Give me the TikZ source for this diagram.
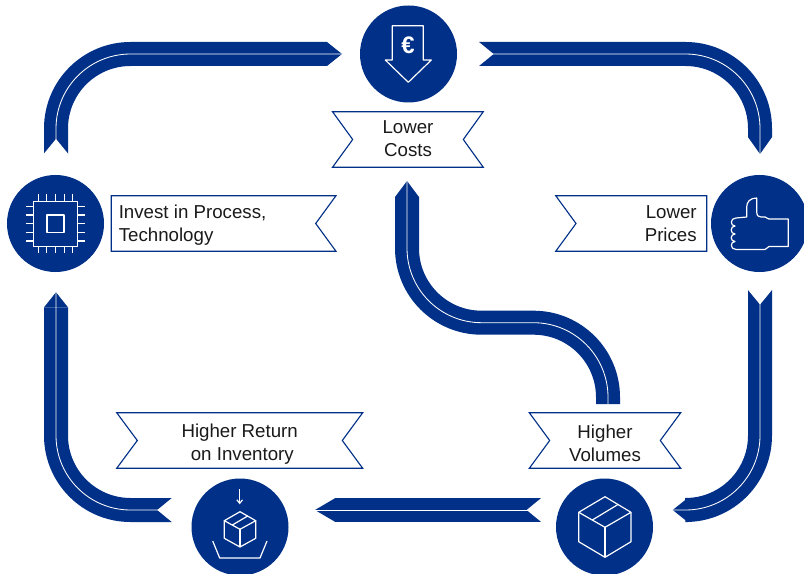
\documentclass[tikz,border=0pt]{standalone}
\usepackage{fontspec}
\setmainfont{Liberation Sans}
\usetikzlibrary{arrows.meta}
\definecolor{bandblue}{RGB}{0,48,135}
\definecolor{labelgray}{RGB}{26,26,26}
\begin{document}
\begin{tikzpicture}[x=0.7113pt,y=0.7113pt]
\tikzstyle{every node}+=[inner sep=0pt]
\tikzstyle{hub}=[circle,fill=bandblue,minimum size=69pt,outer sep=0pt]
\tikzstyle{flag}=[draw=bandblue,line width=0.8pt,fill=white,line join=miter]
\tikzstyle{caption}=[text=labelgray,font=\fontsize{13.3}{16.4}\selectfont]
\tikzstyle{ribbon}=[bandblue,line width=17.07pt,rounded corners=53pt]
\tikzstyle{seam}=[white,line width=0.6pt,rounded corners=53pt]
\tikzstyle{icon}=[white,line width=0.85pt,line join=round]
\tikzset{head/.style={-{Triangle[width=17.07pt,length=#1,line width=0pt]}}}
\useasboundingbox (0,0) rectangle (804,-574);

\node (costshub) [hub] at (408.5,-54) {};
\node (investhub) [hub] at (55.5,-223.5) {};
\node (priceshub) [hub] at (759.5,-223.5) {};
\node (returnhub) [hub] at (240,-527) {};
\node (volumeshub) [hub] at (604.5,-527) {};

\coordinate (investout) at (56,-154);
\coordinate (costsin) at (342,-54);
\coordinate (costsout) at (478.5,-54);
\coordinate (pricesin) at (760,-154);
\coordinate (pricesout) at (760,-289.5);
\coordinate (volumesin) at (672.7,-510);
\coordinate (volumesout) at (541.7,-510);
\coordinate (returnin) at (315,-510);
\coordinate (returnout) at (172.3,-510);
\coordinate (investin) at (56,-292.3);
\coordinate (volumesup) at (608,-404);
\coordinate (bendright) at (608,-322.7);
\coordinate (bendleft) at (407,-322.7);
\coordinate (costsup) at (407,-181);

\draw [ribbon,head=10.7pt] (investout) |- (costsin);
\draw [seam] (investout) |- (costsin);
\fill [white] (investout) ++(-14,-2) -- ++(1.7,2) -- ++(12.3,15) -- ++(12.3,-15) -- ++(1.7,-2) -- cycle;
\draw [ribbon,head=12pt] (costsout) -| (pricesin);
\draw [seam] (costsout) -| (pricesin);
\fill [white] (costsout) ++(-2,14) -- ++(2,-1.7) -- ++(15,-12.3) -- ++(-15,-12.3) -- ++(-2,-1.7) -- cycle;
\draw [ribbon,head=10.7pt] (pricesout) |- (volumesin);
\draw [seam] (pricesout) |- (volumesin);
\fill [white] (pricesout) ++(-14,2) -- ++(1.7,-2) -- ++(12.3,-15) -- ++(12.3,15) -- ++(1.7,2) -- cycle;
\draw [ribbon,head=14.5pt] (volumesout) -- (returnin);
\draw [seam] (volumesout) -- (returnin);
\fill [white] (volumesout) ++(2,14) -- ++(-2,-1.7) -- ++(-15,-12.3) -- ++(15,-12.3) -- ++(2,-1.7) -- cycle;
\draw [ribbon,head=10.7pt] (returnout) -| (investin);
\draw [seam] (returnout) -| (investin);
\fill [white] (returnout) ++(2,14) -- ++(-2,-1.7) -- ++(-15,-12.3) -- ++(15,-12.3) -- ++(2,-1.7) -- cycle;
\draw [ribbon,head=11.4pt] (volumesup) -- (bendright) -- (bendleft) -- (costsup);
\draw [seam] (volumesup) -- (bendright) -- (bendleft) -- (costsup);

\draw [flag] (332.5,-111.7) -- (483.3,-111.7) -- (463.3,-139.5) -- (483.3,-167.3) -- (332.5,-167.3) -- (352.7,-139.5) -- cycle;
\node (costslabel) [caption,align=center] at (408,-138.5) {Lower\\Costs};
\draw [flag] (111.3,-195.7) -- (336,-195.7) -- (315.7,-223.5) -- (336,-251.3) -- (111.3,-251.3) -- cycle;
\node (investlabel) [caption,align=left,anchor=west] at (118.5,-225.5) {Invest in Process,\\Technology};
\draw [flag] (555.7,-195.7) -- (706.7,-195.7) -- (706.7,-251.3) -- (555.7,-251.3) -- (576,-223.5) -- cycle;
\node (priceslabel) [caption,align=right,anchor=east] at (697,-223.5) {Lower\\Prices};
\draw [flag] (116.7,-412.7) -- (362.7,-412.7) -- (342.3,-440.5) -- (362.7,-468.3) -- (116.7,-468.3) -- (137.3,-440.5) -- cycle;
\node (returnlabel) [caption,align=center] at (239.7,-444.5) {Higher Return\\\hspace*{3.7pt}on Inventory};
\draw [flag] (529.3,-412.7) -- (680.7,-412.7) -- (660.3,-440.5) -- (680.7,-468.3) -- (529.3,-468.3) -- (549.7,-440.5) -- cycle;
\node (volumeslabel) [caption,align=center] at (605,-443.5) {Higher\\Volumes};

\draw [icon] (392.3,-60) -- (392.3,-25.7) -- (423.3,-25.7) -- (423.3,-60) -- (431.3,-60) -- (408.3,-82.3) -- (385.3,-60) -- cycle;
\node (eurosign) [text=white,font=\bfseries\fontsize{17}{17}\selectfont] at (408,-45) {€};

\draw [icon] (33.7,-201.7) rectangle (77.3,-246.7);
\draw [icon] (47,-215) rectangle (64,-232.3);
\foreach \pin in {-17.3,-8.7,0,8.7,17.3}
{
\draw [icon] (55.6+\pin,-194) -- (55.6+\pin,-201.7);
\draw [icon] (55.6+\pin,-246.7) -- (55.6+\pin,-253.5);
\draw [icon] (26,-223.7+\pin) -- (33.7,-223.7+\pin);
\draw [icon] (77.3,-223.7+\pin) -- (85,-223.7+\pin);
}

\draw [icon] (746.7,-217) -- (746.7,-207) .. controls (746.7,-202) and (750,-198) .. (756.7,-198) -- (756.7,-212) .. controls (756.7,-216) and (759,-217) .. (761,-217) -- (765,-217) .. controls (766.5,-217) and (767,-219) .. (769,-219) -- (788.3,-219) -- (788.3,-246.5) -- (769,-246.5) .. controls (767,-246.5) and (767,-249.5) .. (765,-249.5) -- (736,-249.5) .. controls (730,-249.5) and (730,-241.5) .. (735,-241.5) .. controls (730,-241.5) and (730,-234) .. (735,-234) .. controls (730,-234) and (730,-226) .. (735,-226) .. controls (730,-226) and (730,-218) .. (736,-218) -- cycle;

\draw [icon] (578.7,-512.3) -- (605,-496.7) -- (631,-512.3) -- (605,-527.3) -- cycle;
\draw [icon] (578.7,-512.3) -- (578.7,-541.7) -- (605,-557.3) -- (631,-541.7) -- (631,-512.3);
\draw [icon] (605,-527.3) -- (605,-557.3);
\draw [icon] (592.3,-520) -- (618.3,-504.3);

\draw [icon] (224.3,-520.7) -- (240,-511.7) -- (255.7,-520.7) -- (240,-529.3) -- cycle;
\draw [icon] (224.3,-520.7) -- (224.3,-538.3) -- (240,-547) -- (255.7,-538.3) -- (255.7,-520.7);
\draw [icon] (240,-529.3) -- (240,-547);
\draw [icon] (232.3,-525) -- (247.7,-516);
\draw [icon,-{Straight Barb[length=2.5pt,width=4pt]}] (239.7,-489) -- (239.7,-504.3);
\draw [icon] (212.7,-541) -- (219.7,-558) -- (260,-558) -- (267,-541);
\end{tikzpicture}
\end{document}
